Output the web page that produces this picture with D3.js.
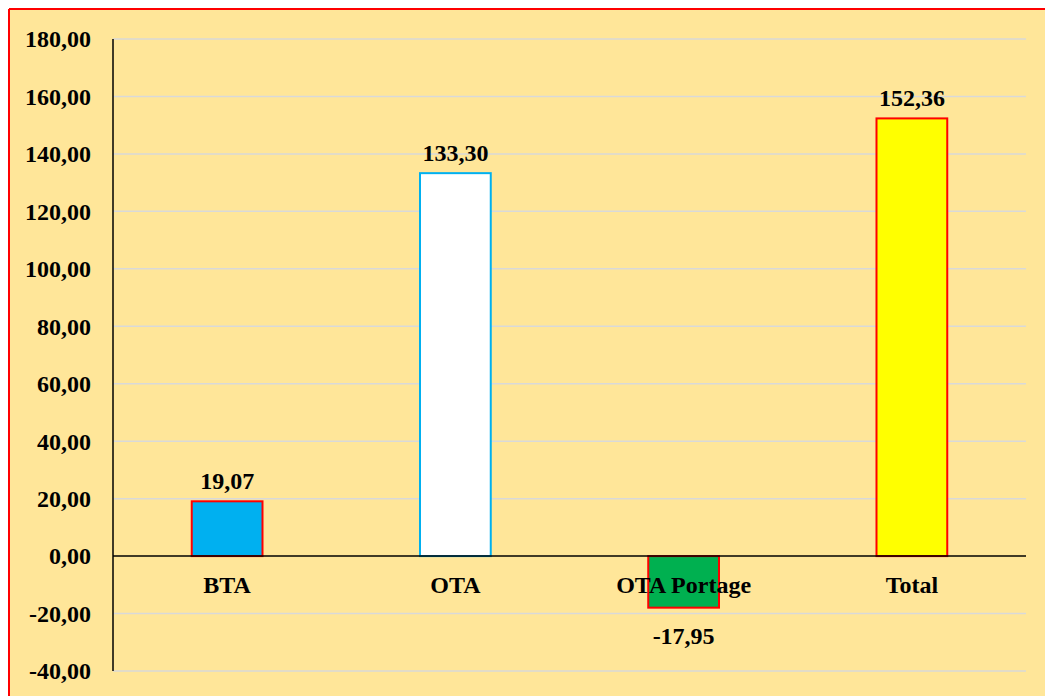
<!DOCTYPE html>
<html><head><meta charset="utf-8">
<script src="https://cdn.jsdelivr.net/npm/d3@7"></script>
<style>
html,body{margin:0;padding:0;background:#fff;}
svg{display:block;}
text{font-family:"Liberation Serif","Times New Roman",serif;font-weight:bold;fill:#000;}
</style></head>
<body>
<script>
const categories = ["BTA", "OTA", "OTA Portage", "Total"];
const values = [19.07, 133.30, -17.95, 152.36];
const fills = ["#00B0F0", "#FFFFFF", "#00B050", "#FFFF00"];
const strokes = ["#FF0000", "#00B0F0", "#FF0000", "#FF0000"];
const yTicks = [-40, -20, 0, 20, 40, 60, 80, 100, 120, 140, 160, 180];

const W = 1045, H = 696;
const fmt = v => d3.format(".2f")(v).replace(".", ",").replace("\u2212", "-");

const svg = d3.select("body").append("svg").attr("width", W).attr("height", H);

svg.append("rect").attr("x", 9).attr("y", 9).attr("width", W - 9).attr("height", H - 9).attr("fill", "#FFE699");
svg.append("line").attr("x1", 9).attr("x2", W).attr("y1", 9).attr("y2", 9).attr("stroke", "#FF0000").attr("stroke-width", 2);
svg.append("line").attr("x1", 9).attr("x2", 9).attr("y1", 9).attr("y2", H).attr("stroke", "#FF0000").attr("stroke-width", 2);

const x0 = 113, x1 = 1026;
const y = d3.scaleLinear().domain([-40, 180]).range([671, 39]);
const x = d3.scaleBand().domain(categories).range([x0, x1]).paddingInner(0.69).paddingOuter(0.345);

// gridlines
svg.append("g").selectAll("line").data(yTicks.filter(t => t !== 0)).join("line")
  .attr("x1", x0).attr("x2", x1).attr("y1", d => y(d)).attr("y2", d => y(d))
  .attr("stroke", "#D9D9D9").attr("stroke-width", 1.5);

// y axis labels
svg.append("g").selectAll("text").data(yTicks).join("text")
  .attr("x", 91).attr("y", d => y(d)).attr("dy", "0.35em")
  .attr("text-anchor", "end").attr("font-size", 24).text(fmt);

// bars
svg.append("g").selectAll("rect").data(values).join("rect")
  .attr("x", (d, i) => x(categories[i]))
  .attr("width", x.bandwidth())
  .attr("y", d => y(Math.max(0, d)))
  .attr("height", d => Math.abs(y(d) - y(0)))
  .attr("fill", (d, i) => fills[i])
  .attr("stroke", (d, i) => strokes[i])
  .attr("stroke-width", 2);

// axes lines
svg.append("line").attr("x1", x0).attr("x2", x0).attr("y1", y(180)).attr("y2", y(-40)).attr("stroke", "#000").attr("stroke-width", 1.5);
svg.append("line").attr("x1", x0).attr("x2", x1).attr("y1", y(0)).attr("y2", y(0)).attr("stroke", "#000").attr("stroke-width", 1.5);

// category labels
svg.append("g").selectAll("text").data(categories).join("text")
  .attr("x", d => x(d) + x.bandwidth() / 2).attr("y", y(0) + 37)
  .attr("text-anchor", "middle").attr("font-size", 24).text(d => d);

// value labels
svg.append("g").selectAll("text").data(values).join("text")
  .attr("x", (d, i) => x(categories[i]) + x.bandwidth() / 2)
  .attr("y", d => d >= 0 ? y(d) - 12 : y(d) + 36)
  .attr("text-anchor", "middle").attr("font-size", 24).text(fmt);
</script>
</body></html>
